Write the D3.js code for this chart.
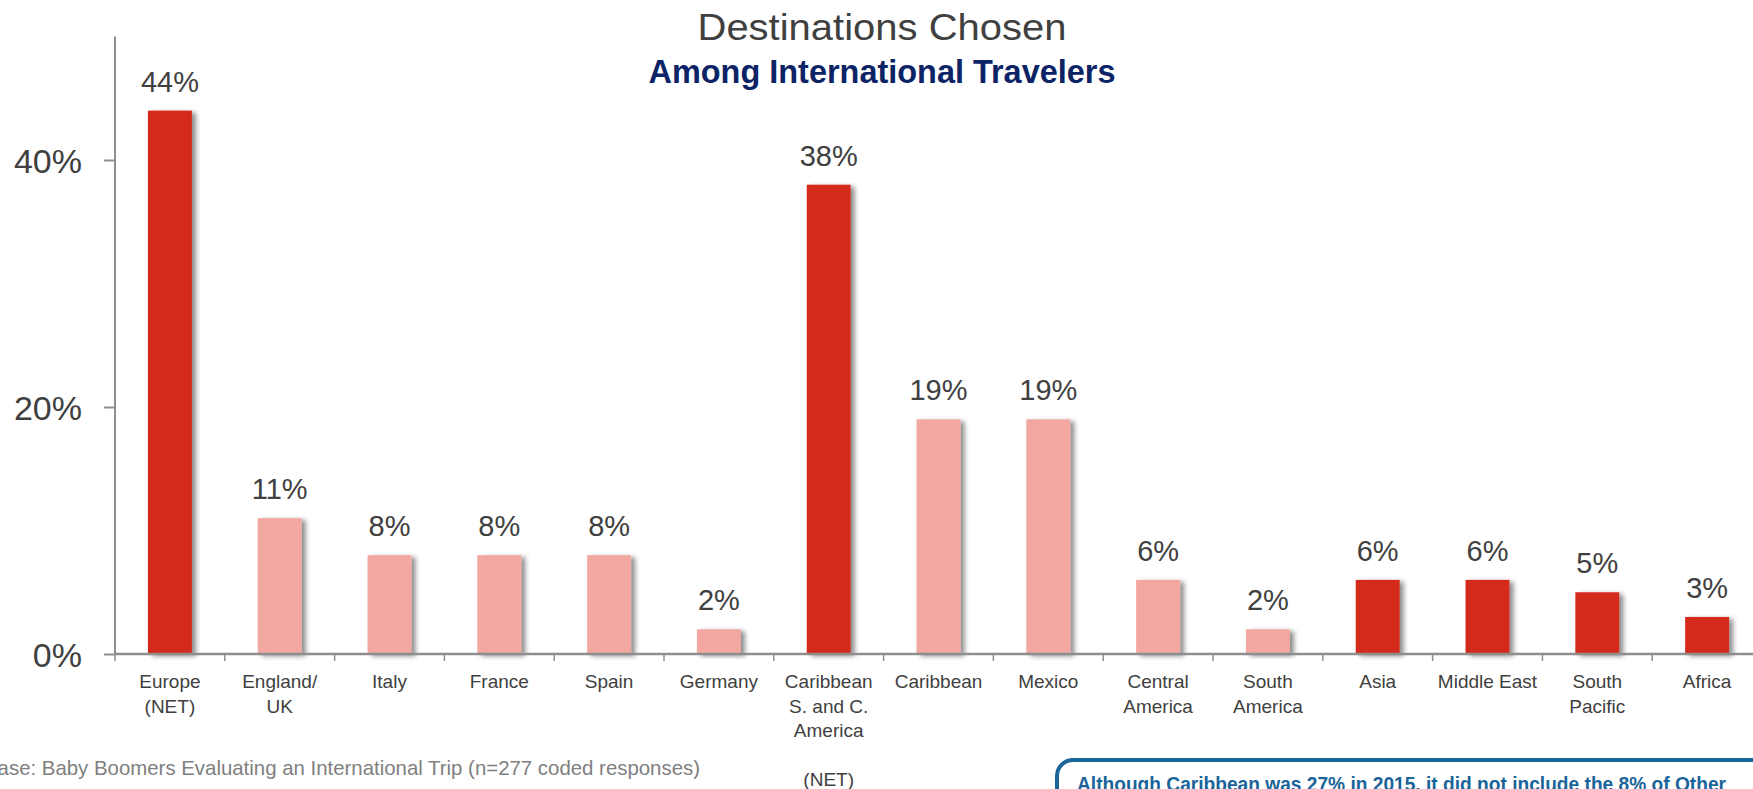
<!DOCTYPE html>
<html>
<head>
<meta charset="utf-8">
<script src="https://cdn.jsdelivr.net/npm/d3@7"></script>
<style>
  body { margin: 0; background: #ffffff; overflow: hidden; }
  svg { display: block; font-family: "Liberation Sans", Arial, sans-serif; }
</style>
</head>
<body>
<div id="chart"></div>
<script>
// data
const categories = ["Europe (NET)", "England/UK", "Italy", "France", "Spain", "Germany",
  "Caribbean S. and C. America (NET)", "Caribbean", "Mexico", "Central America",
  "South America", "Asia", "Middle East", "South Pacific", "Africa"];
const values = [44, 11, 8, 8, 8, 2, 38, 19, 19, 6, 2, 6, 6, 5, 3];
// true = net / top level bar (dark red), false = sub item (pink)
const isNet = [true, false, false, false, false, false, true, false, false, false, false, true, true, true, true];
const tickLabels = [
  ["Europe", "(NET)"], ["England/", "UK"], ["Italy"], ["France"], ["Spain"], ["Germany"],
  ["Caribbean", "S. and C.", "America", "", "(NET)"], ["Caribbean"], ["Mexico"],
  ["Central", "America"], ["South", "America"], ["Asia"], ["Middle East"], ["South", "Pacific"], ["Africa"]
];
const yTicks = [0, 20, 40];

const width = 1753, height = 789;
const red = "#d42a1f", pink = "#f2a7a1", axisGrey = "#8e8e8e", textGrey = "#404040";

const svg = d3.select("#chart")
  .append("svg")
  .attr("width", width)
  .attr("height", height);

// drop shadow for bars
const defs = svg.append("defs");
defs.append("filter")
  .attr("id", "shadow")
  .attr("x", "-30%").attr("y", "-10%")
  .attr("width", "160%").attr("height", "130%")
  .append("feDropShadow")
  .attr("dx", 4).attr("dy", 2)
  .attr("stdDeviation", 2.5)
  .attr("flood-color", "#000")
  .attr("flood-opacity", 0.45);

//scales
const x = d3.scaleBand()
  .domain(categories)
  .range([115, 115 + 15 * 109.8])
  .paddingInner(0.6)
  .paddingOuter(0.3);

const y = d3.scaleLinear().domain([0, 50]).range([654, 36.5]);

// bars
svg.selectAll(".bar")
  .data(values)
  .enter()
  .append("rect")
  .attr("class", "bar")
  .attr("x", (d, i) => x(categories[i]))
  .attr("y", (d) => y(d))
  .attr("width", x.bandwidth())
  .attr("height", (d) => y(0) - y(d))
  .attr("fill", (d, i) => (isNet[i] ? red : pink))
  .attr("filter", "url(#shadow)");

// value labels
svg.selectAll(".valueLabel")
  .data(values)
  .enter()
  .append("text")
  .attr("class", "valueLabel")
  .attr("x", (d, i) => x(categories[i]) + x.bandwidth() / 2)
  .attr("y", (d) => y(d) - 19)
  .attr("text-anchor", "middle")
  .style("font-size", "29px")
  .style("fill", textGrey)
  .text((d) => d + "%");

//y axis
const yAxis = d3.axisLeft(y)
  .tickValues(yTicks)
  .tickSize(11)
  .tickPadding(22)
  .tickFormat((d) => d + "%");

const yG = svg.append("g")
  .attr("class", "yAxis")
  .attr("transform", "translate(115,0)")
  .call(yAxis);
yG.select(".domain")
  .attr("d", `M0,${y(0)}V${y(50)}`)
  .attr("stroke", axisGrey)
  .attr("stroke-width", 2);
yG.selectAll(".tick line").attr("stroke", axisGrey).attr("stroke-width", 2);
yG.selectAll(".tick text")
  .style("font-size", "34px")
  .style("font-family", "'Liberation Sans', Arial, sans-serif")
  .attr("fill", textGrey)
  .attr("dy", "0.36em");

//x axis: baseline plus ticks on the band edges
const step = x.step();
const edges = categories.map((c) => x(c) - (step * x.paddingInner()) / 2);
edges.push(edges[edges.length - 1] + step);

const xG = svg.append("g").attr("class", "xAxis");
xG.append("line")
  .attr("x1", 115).attr("x2", width)
  .attr("y1", y(0)).attr("y2", y(0))
  .attr("stroke", axisGrey)
  .attr("stroke-width", 2.5);
xG.selectAll(".edgeTick")
  .data(edges)
  .enter()
  .append("line")
  .attr("class", "edgeTick")
  .attr("x1", (d) => d).attr("x2", (d) => d)
  .attr("y1", y(0)).attr("y2", y(0) + 7)
  .attr("stroke", axisGrey)
  .attr("stroke-width", 1.5);

// category labels (multi line)
const catText = xG.selectAll(".catLabel")
  .data(tickLabels)
  .enter()
  .append("text")
  .attr("class", "catLabel")
  .attr("text-anchor", "middle")
  .style("font-size", "19px")
  .style("fill", textGrey);

catText.each(function (lines, i) {
  const cx = x(categories[i]) + x.bandwidth() / 2;
  const t = d3.select(this);
  lines.forEach((line, j) => {
    t.append("tspan")
      .attr("x", cx)
      .attr("y", 688 + j * 24.5)
      .text(line);
  });
});

// titles
svg.append("text")
  .attr("x", 882)
  .attr("y", 40)
  .attr("text-anchor", "middle")
  .attr("textLength", 369)
  .attr("lengthAdjust", "spacingAndGlyphs")
  .style("font-size", "36px")
  .style("fill", "#404040")
  .text("Destinations Chosen");

svg.append("text")
  .attr("x", 882)
  .attr("y", 83)
  .attr("text-anchor", "middle")
  .attr("textLength", 467)
  .attr("lengthAdjust", "spacingAndGlyphs")
  .style("font-size", "34px")
  .style("font-weight", "bold")
  .style("fill", "#0c2366")
  .text("Among International Travelers");

// base note
svg.append("text")
  .attr("x", 700)
  .attr("y", 775)
  .attr("text-anchor", "end")
  .attr("textLength", 716)
  .attr("lengthAdjust", "spacingAndGlyphs")
  .style("font-size", "21px")
  .style("fill", "#808080")
  .text("Base: Baby Boomers Evaluating an International Trip (n=277 coded responses)");

// callout box (cut off by the bottom edge)
svg.append("rect")
  .attr("x", 1057)
  .attr("y", 760)
  .attr("width", 760)
  .attr("height", 120)
  .attr("rx", 16)
  .attr("fill", "#ffffff")
  .attr("stroke", "#1a6699")
  .attr("stroke-width", 4);

svg.append("text")
  .attr("x", 1077)
  .attr("y", 791)
  .attr("textLength", 649)
  .attr("lengthAdjust", "spacingAndGlyphs")
  .style("font-size", "21px")
  .style("font-weight", "bold")
  .style("fill", "#1a6499")
  .text("Although Caribbean was 27% in 2015, it did not include the 8% of Other");
</script>
</body>
</html>
